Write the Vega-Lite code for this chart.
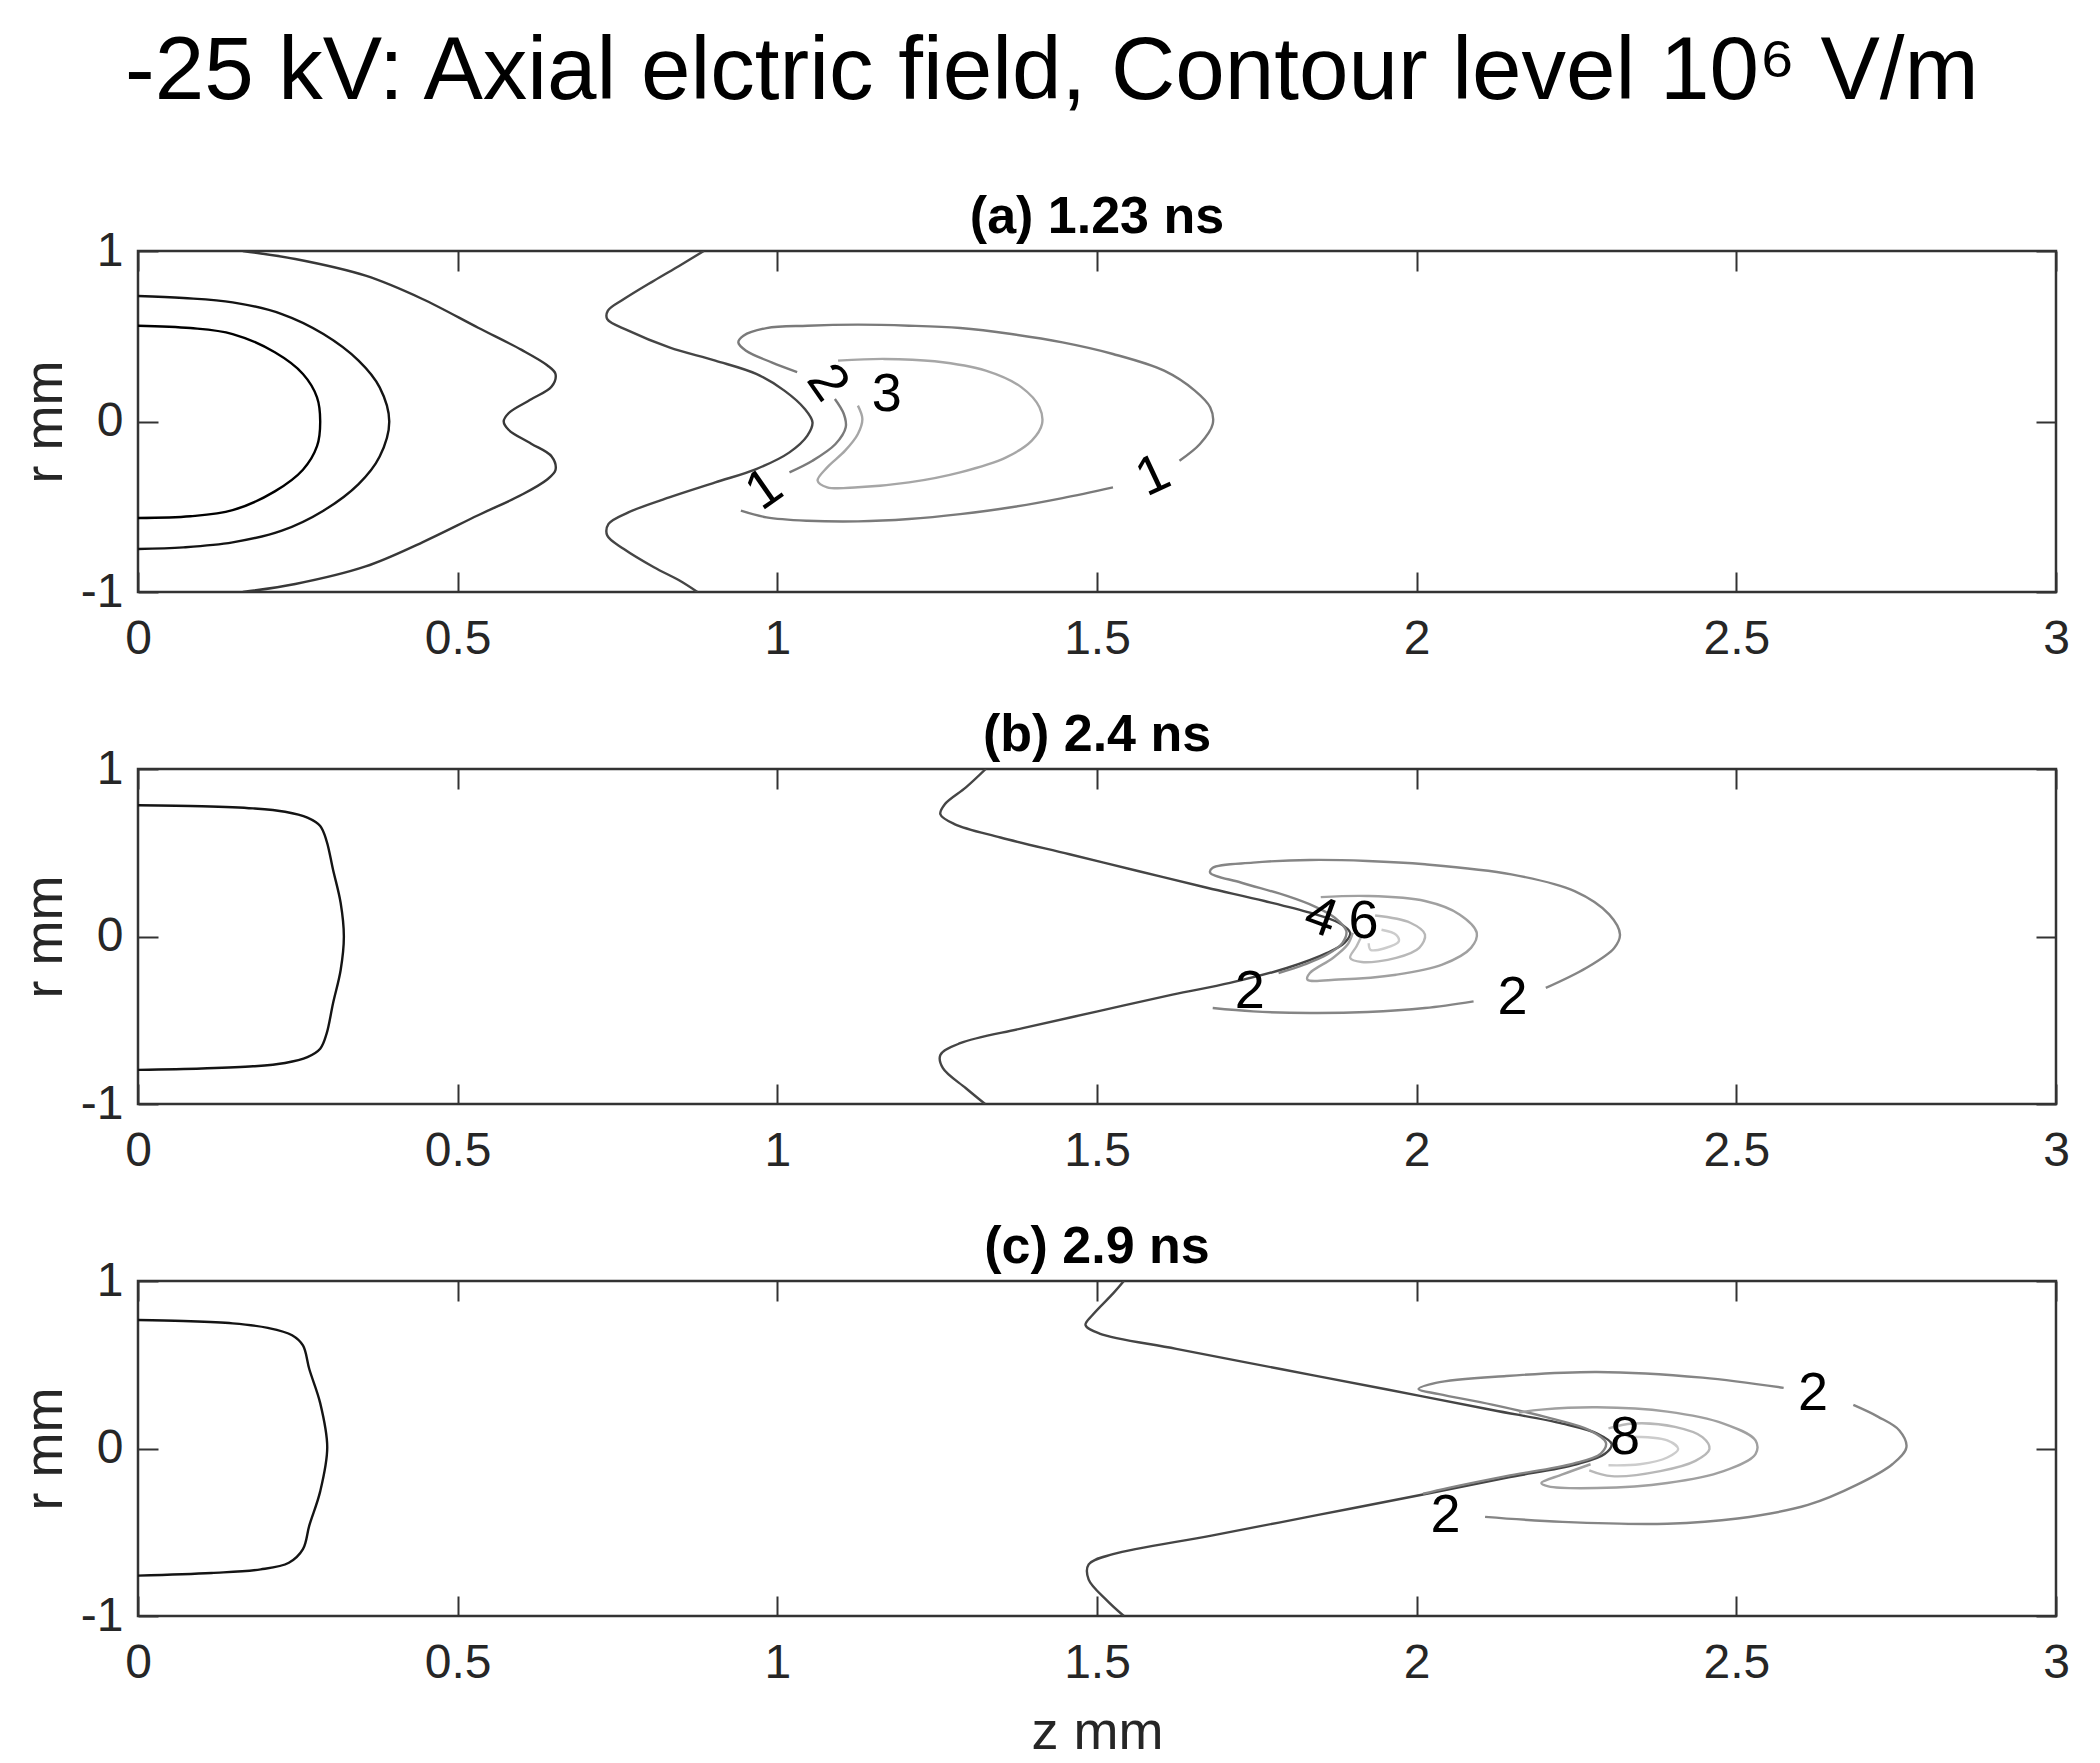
{
  "$schema": "https://vega.github.io/schema/vega-lite/v6.json",
  "background": "white",
  "padding": {"left": 17, "top": 27, "right": 20, "bottom": 10},
  "title": {"text": "-25 kV: Axial elctric field, Contour level 10⁶ V/m", "font": "Liberation Sans", "fontSize": 89, "fontWeight": "normal", "color": "#000000", "anchor": "middle", "baseline": "alphabetic", "offset": 2, "dx": 8},
  "config": {
    "view": {"stroke": "#333333", "strokeWidth": 2.5},
    "axis": {"grid": false, "domain": false, "labelFlush": false, "tickSize": -20, "tickColor": "#333333", "tickWidth": 2, "labelFont": "Liberation Sans", "labelFontSize": 48, "labelColor": "#262626", "titleFont": "Liberation Sans", "titleFontSize": 54, "titleFontWeight": "normal", "titleColor": "#262626"},
    "title": {"font": "Liberation Sans", "fontSize": 52, "fontWeight": "bold", "color": "#000000", "baseline": "alphabetic", "offset": -17}
  },
  "datasets": {
    "la": [
      {"id":"a1","lev":-3,"z":0,"r":0.562},{"id":"a1","lev":-3,"z":0.082,"r":0.548},{"id":"a1","lev":-3,"z":0.148,"r":0.513},{"id":"a1","lev":-3,"z":0.214,"r":0.406},{"id":"a1","lev":-3,"z":0.258,"r":0.279},{"id":"a1","lev":-3,"z":0.28,"r":0.142},{"id":"a1","lev":-3,"z":0.285,"r":0},{"id":"a1","lev":-3,"z":0.28,"r":-0.145},{"id":"a1","lev":-3,"z":0.258,"r":-0.283},{"id":"a1","lev":-3,"z":0.214,"r":-0.41},{"id":"a1","lev":-3,"z":0.148,"r":-0.52},{"id":"a1","lev":-3,"z":0.082,"r":-0.556},{"id":"a1","lev":-3,"z":0,"r":-0.566},
      {"id":"a2","lev":-2,"z":0,"r":0.736},{"id":"a2","lev":-2,"z":0.071,"r":0.724},{"id":"a2","lev":-2,"z":0.148,"r":0.699},{"id":"a2","lev":-2,"z":0.225,"r":0.63},{"id":"a2","lev":-2,"z":0.29,"r":0.513},{"id":"a2","lev":-2,"z":0.345,"r":0.357},{"id":"a2","lev":-2,"z":0.378,"r":0.2},{"id":"a2","lev":-2,"z":0.393,"r":0},{"id":"a2","lev":-2,"z":0.378,"r":-0.205},{"id":"a2","lev":-2,"z":0.345,"r":-0.367},{"id":"a2","lev":-2,"z":0.29,"r":-0.523},{"id":"a2","lev":-2,"z":0.225,"r":-0.64},{"id":"a2","lev":-2,"z":0.148,"r":-0.709},{"id":"a2","lev":-2,"z":0.071,"r":-0.738},{"id":"a2","lev":-2,"z":0,"r":-0.748},
      {"id":"a3","lev":-1,"z":0.164,"r":1},{"id":"a3","lev":-1,"z":0.246,"r":0.953},{"id":"a3","lev":-1,"z":0.356,"r":0.855},{"id":"a3","lev":-1,"z":0.444,"r":0.72},{"id":"a3","lev":-1,"z":0.532,"r":0.55},{"id":"a3","lev":-1,"z":0.6,"r":0.42},{"id":"a3","lev":-1,"z":0.64,"r":0.33},{"id":"a3","lev":-1,"z":0.653,"r":0.279},{"id":"a3","lev":-1,"z":0.647,"r":0.205},{"id":"a3","lev":-1,"z":0.615,"r":0.13},{"id":"a3","lev":-1,"z":0.58,"r":0.05},{"id":"a3","lev":-1,"z":0.572,"r":0},{"id":"a3","lev":-1,"z":0.58,"r":-0.05},{"id":"a3","lev":-1,"z":0.615,"r":-0.13},{"id":"a3","lev":-1,"z":0.647,"r":-0.205},{"id":"a3","lev":-1,"z":0.653,"r":-0.285},{"id":"a3","lev":-1,"z":0.64,"r":-0.34},{"id":"a3","lev":-1,"z":0.6,"r":-0.43},{"id":"a3","lev":-1,"z":0.532,"r":-0.55},{"id":"a3","lev":-1,"z":0.444,"r":-0.71},{"id":"a3","lev":-1,"z":0.356,"r":-0.85},{"id":"a3","lev":-1,"z":0.246,"r":-0.953},{"id":"a3","lev":-1,"z":0.164,"r":-1},
      {"id":"as","lev":0,"z":0.885,"r":1},{"id":"as","lev":0,"z":0.847,"r":0.914},{"id":"as","lev":0,"z":0.807,"r":0.826},{"id":"as","lev":0,"z":0.76,"r":0.718},{"id":"as","lev":0,"z":0.735,"r":0.65},{"id":"as","lev":0,"z":0.734,"r":0.6},{"id":"as","lev":0,"z":0.767,"r":0.533},{"id":"as","lev":0,"z":0.831,"r":0.435},{"id":"as","lev":0,"z":0.903,"r":0.357},{"id":"as","lev":0,"z":0.967,"r":0.279},{"id":"as","lev":0,"z":1.011,"r":0.181},{"id":"as","lev":0,"z":1.043,"r":0.073},{"id":"as","lev":0,"z":1.055,"r":-0.005},{"id":"as","lev":0,"z":1.047,"r":-0.083},{"id":"as","lev":0,"z":1.019,"r":-0.181},{"id":"as","lev":0,"z":0.967,"r":-0.279},{"id":"as","lev":0,"z":0.903,"r":-0.357},{"id":"as","lev":0,"z":0.831,"r":-0.445},{"id":"as","lev":0,"z":0.767,"r":-0.533},{"id":"as","lev":0,"z":0.736,"r":-0.601},{"id":"as","lev":0,"z":0.734,"r":-0.669},{"id":"as","lev":0,"z":0.76,"r":-0.748},{"id":"as","lev":0,"z":0.807,"r":-0.855},{"id":"as","lev":0,"z":0.847,"r":-0.933},{"id":"as","lev":0,"z":0.875,"r":-1},
      {"id":"oa1","lev":1,"z":1.09,"r":0.132},{"id":"oa1","lev":1,"z":1.104,"r":0.044},{"id":"oa1","lev":1,"z":1.107,"r":-0.034},{"id":"oa1","lev":1,"z":1.091,"r":-0.132},{"id":"oa1","lev":1,"z":1.055,"r":-0.23},{"id":"oa1","lev":1,"z":1.019,"r":-0.298},
      {"id":"oa2","lev":1,"z":0.943,"r":-0.523},{"id":"oa2","lev":1,"z":0.983,"r":-0.562},{"id":"oa2","lev":1,"z":1.047,"r":-0.582},{"id":"oa2","lev":1,"z":1.126,"r":-0.586},{"id":"oa2","lev":1,"z":1.206,"r":-0.572},{"id":"oa2","lev":1,"z":1.286,"r":-0.543},{"id":"oa2","lev":1,"z":1.366,"r":-0.503},{"id":"oa2","lev":1,"z":1.446,"r":-0.449},{"id":"oa2","lev":1,"z":1.525,"r":-0.386},
      {"id":"oa3","lev":1,"z":1.629,"r":-0.23},{"id":"oa3","lev":1,"z":1.661,"r":-0.132},{"id":"oa3","lev":1,"z":1.681,"r":-0.015},{"id":"oa3","lev":1,"z":1.677,"r":0.083},{"id":"oa3","lev":1,"z":1.653,"r":0.181},{"id":"oa3","lev":1,"z":1.605,"r":0.298},{"id":"oa3","lev":1,"z":1.525,"r":0.396},{"id":"oa3","lev":1,"z":1.446,"r":0.464},{"id":"oa3","lev":1,"z":1.366,"r":0.513},{"id":"oa3","lev":1,"z":1.286,"r":0.548},{"id":"oa3","lev":1,"z":1.206,"r":0.562},{"id":"oa3","lev":1,"z":1.126,"r":0.568},{"id":"oa3","lev":1,"z":1.047,"r":0.562},{"id":"oa3","lev":1,"z":0.983,"r":0.548},{"id":"oa3","lev":1,"z":0.947,"r":0.503},{"id":"oa3","lev":1,"z":0.939,"r":0.464},{"id":"oa3","lev":1,"z":0.951,"r":0.415},{"id":"oa3","lev":1,"z":0.991,"r":0.347},{"id":"oa3","lev":1,"z":1.031,"r":0.29},
      {"id":"ca1","lev":3,"z":1.095,"r":0.357},{"id":"ca1","lev":3,"z":1.167,"r":0.367},{"id":"ca1","lev":3,"z":1.246,"r":0.353},{"id":"ca1","lev":3,"z":1.326,"r":0.298},{"id":"ca1","lev":3,"z":1.382,"r":0.2},{"id":"ca1","lev":3,"z":1.41,"r":0.083},{"id":"ca1","lev":3,"z":1.414,"r":-0.015},{"id":"ca1","lev":3,"z":1.398,"r":-0.112},{"id":"ca1","lev":3,"z":1.358,"r":-0.21},{"id":"ca1","lev":3,"z":1.286,"r":-0.298},{"id":"ca1","lev":3,"z":1.206,"r":-0.357},{"id":"ca1","lev":3,"z":1.126,"r":-0.386},{"id":"ca1","lev":3,"z":1.078,"r":-0.386},{"id":"ca1","lev":3,"z":1.063,"r":-0.347},{"id":"ca1","lev":3,"z":1.078,"r":-0.269},{"id":"ca1","lev":3,"z":1.106,"r":-0.171},{"id":"ca1","lev":3,"z":1.126,"r":-0.073},{"id":"ca1","lev":3,"z":1.133,"r":0.015},{"id":"ca1","lev":3,"z":1.126,"r":0.093}
    ],
    "ta": [
      {"k":"a2","t":"2","z":1.078,"r":0.226},{"k":"a3","t":"3","z":1.171,"r":0.155},{"k":"a1L","t":"1","z":0.98,"r":-0.4},{"k":"a1R","t":"1","z":1.588,"r":-0.32}
    ],
    "lb": [
      {"id":"b1","lev":-2,"z":0,"r":0.784},{"id":"b1","lev":-2,"z":0.1,"r":0.778},{"id":"b1","lev":-2,"z":0.18,"r":0.765},{"id":"b1","lev":-2,"z":0.23,"r":0.745},{"id":"b1","lev":-2,"z":0.265,"r":0.71},{"id":"b1","lev":-2,"z":0.285,"r":0.66},{"id":"b1","lev":-2,"z":0.295,"r":0.57},{"id":"b1","lev":-2,"z":0.305,"r":0.4},{"id":"b1","lev":-2,"z":0.317,"r":0.2},{"id":"b1","lev":-2,"z":0.322,"r":0},{"id":"b1","lev":-2,"z":0.317,"r":-0.2},{"id":"b1","lev":-2,"z":0.305,"r":-0.4},{"id":"b1","lev":-2,"z":0.295,"r":-0.58},{"id":"b1","lev":-2,"z":0.285,"r":-0.67},{"id":"b1","lev":-2,"z":0.265,"r":-0.72},{"id":"b1","lev":-2,"z":0.23,"r":-0.755},{"id":"b1","lev":-2,"z":0.18,"r":-0.775},{"id":"b1","lev":-2,"z":0.1,"r":-0.788},{"id":"b1","lev":-2,"z":0,"r":-0.796},
      {"id":"bs","lev":0,"z":1.326,"r":1},{"id":"bs","lev":0,"z":1.295,"r":0.89},{"id":"bs","lev":0,"z":1.262,"r":0.79},{"id":"bs","lev":0,"z":1.255,"r":0.73},{"id":"bs","lev":0,"z":1.277,"r":0.671},{"id":"bs","lev":0,"z":1.349,"r":0.591},{"id":"bs","lev":0,"z":1.457,"r":0.491},{"id":"bs","lev":0,"z":1.564,"r":0.391},{"id":"bs","lev":0,"z":1.672,"r":0.291},{"id":"bs","lev":0,"z":1.762,"r":0.212},{"id":"bs","lev":0,"z":1.833,"r":0.142},{"id":"bs","lev":0,"z":1.878,"r":0.082},{"id":"bs","lev":0,"z":1.896,"r":0.022},{"id":"bs","lev":0,"z":1.887,"r":-0.038},{"id":"bs","lev":0,"z":1.86,"r":-0.098},{"id":"bs","lev":0,"z":1.797,"r":-0.188},{"id":"bs","lev":0,"z":1.708,"r":-0.277},{"id":"bs","lev":0,"z":1.618,"r":-0.347},{"id":"bs","lev":0,"z":1.501,"r":-0.447},{"id":"bs","lev":0,"z":1.384,"r":-0.547},{"id":"bs","lev":0,"z":1.286,"r":-0.637},{"id":"bs","lev":0,"z":1.255,"r":-0.707},{"id":"bs","lev":0,"z":1.259,"r":-0.786},{"id":"bs","lev":0,"z":1.295,"r":-0.906},{"id":"bs","lev":0,"z":1.325,"r":-1},
      {"id":"ob1","lev":2,"z":1.681,"r":-0.427},{"id":"ob1","lev":2,"z":1.744,"r":-0.447},{"id":"ob1","lev":2,"z":1.833,"r":-0.457},{"id":"ob1","lev":2,"z":1.923,"r":-0.451},{"id":"ob1","lev":2,"z":2.013,"r":-0.427},{"id":"ob1","lev":2,"z":2.089,"r":-0.387},
      {"id":"ob2","lev":2,"z":2.202,"r":-0.307},{"id":"ob2","lev":2,"z":2.265,"r":-0.188},{"id":"ob2","lev":2,"z":2.309,"r":-0.068},{"id":"ob2","lev":2,"z":2.318,"r":0.012},{"id":"ob2","lev":2,"z":2.301,"r":0.132},{"id":"ob2","lev":2,"z":2.247,"r":0.271},{"id":"ob2","lev":2,"z":2.148,"r":0.371},{"id":"ob2","lev":2,"z":2.013,"r":0.431},{"id":"ob2","lev":2,"z":1.923,"r":0.451},{"id":"ob2","lev":2,"z":1.833,"r":0.457},{"id":"ob2","lev":2,"z":1.744,"r":0.441},{"id":"ob2","lev":2,"z":1.681,"r":0.411},{"id":"ob2","lev":2,"z":1.677,"r":0.381},{"id":"ob2","lev":2,"z":1.726,"r":0.321},{"id":"ob2","lev":2,"z":1.797,"r":0.242},{"id":"ob2","lev":2,"z":1.84,"r":0.18},{"id":"ob2","lev":2,"z":1.872,"r":0.112},{"id":"ob2","lev":2,"z":1.89,"r":0.032},{"id":"ob2","lev":2,"z":1.884,"r":-0.038},{"id":"ob2","lev":2,"z":1.86,"r":-0.108},{"id":"ob2","lev":2,"z":1.824,"r":-0.168},{"id":"ob2","lev":2,"z":1.784,"r":-0.218},
      {"id":"b4","lev":4,"z":1.85,"r":0.235},{"id":"b4","lev":4,"z":1.923,"r":0.242},{"id":"b4","lev":4,"z":2.013,"r":0.212},{"id":"b4","lev":4,"z":2.067,"r":0.132},{"id":"b4","lev":4,"z":2.094,"r":0.022},{"id":"b4","lev":4,"z":2.085,"r":-0.068},{"id":"b4","lev":4,"z":2.04,"r":-0.168},{"id":"b4","lev":4,"z":1.968,"r":-0.228},{"id":"b4","lev":4,"z":1.878,"r":-0.257},{"id":"b4","lev":4,"z":1.829,"r":-0.257},{"id":"b4","lev":4,"z":1.833,"r":-0.218},{"id":"b4","lev":4,"z":1.869,"r":-0.128},{"id":"b4","lev":4,"z":1.892,"r":-0.048},{"id":"b4","lev":4,"z":1.9,"r":0.022},
      {"id":"b6","lev":6,"z":1.935,"r":0.125},{"id":"b6","lev":6,"z":1.99,"r":0.082},{"id":"b6","lev":6,"z":2.013,"r":0.012},{"id":"b6","lev":6,"z":2.004,"r":-0.068},{"id":"b6","lev":6,"z":1.968,"r":-0.128},{"id":"b6","lev":6,"z":1.914,"r":-0.152},{"id":"b6","lev":6,"z":1.896,"r":-0.128},{"id":"b6","lev":6,"z":1.906,"r":-0.058},{"id":"b6","lev":6,"z":1.915,"r":0.012},
      {"id":"b8","lev":8,"z":1.945,"r":0.04},{"id":"b8","lev":8,"z":1.968,"r":0.01},{"id":"b8","lev":8,"z":1.972,"r":-0.03},{"id":"b8","lev":8,"z":1.95,"r":-0.07},{"id":"b8","lev":8,"z":1.928,"r":-0.08},{"id":"b8","lev":8,"z":1.925,"r":-0.04}
    ],
    "tb": [
      {"k":"b4","t":"4","z":1.85,"r":0.111},{"k":"b6","t":"6","z":1.917,"r":0.087},{"k":"b2L","t":"2","z":1.739,"r":-0.333},{"k":"b2R","t":"2","z":2.15,"r":-0.365}
    ],
    "lc": [
      {"id":"c1","lev":-2,"z":0,"r":0.767},{"id":"c1","lev":-2,"z":0.071,"r":0.761},{"id":"c1","lev":-2,"z":0.148,"r":0.747},{"id":"c1","lev":-2,"z":0.203,"r":0.72},{"id":"c1","lev":-2,"z":0.241,"r":0.676},{"id":"c1","lev":-2,"z":0.258,"r":0.615},{"id":"c1","lev":-2,"z":0.268,"r":0.473},{"id":"c1","lev":-2,"z":0.285,"r":0.271},{"id":"c1","lev":-2,"z":0.296,"r":0.007},{"id":"c1","lev":-2,"z":0.285,"r":-0.256},{"id":"c1","lev":-2,"z":0.268,"r":-0.459},{"id":"c1","lev":-2,"z":0.258,"r":-0.601},{"id":"c1","lev":-2,"z":0.236,"r":-0.682},{"id":"c1","lev":-2,"z":0.192,"r":-0.722},{"id":"c1","lev":-2,"z":0.115,"r":-0.743},{"id":"c1","lev":-2,"z":0,"r":-0.759},
      {"id":"cs","lev":0,"z":1.542,"r":1},{"id":"cs","lev":0,"z":1.526,"r":0.929},{"id":"cs","lev":0,"z":1.493,"r":0.797},{"id":"cs","lev":0,"z":1.482,"r":0.737},{"id":"cs","lev":0,"z":1.504,"r":0.686},{"id":"cs","lev":0,"z":1.624,"r":0.595},{"id":"cs","lev":0,"z":1.789,"r":0.473},{"id":"cs","lev":0,"z":1.954,"r":0.352},{"id":"cs","lev":0,"z":2.118,"r":0.23},{"id":"cs","lev":0,"z":2.228,"r":0.149},{"id":"cs","lev":0,"z":2.283,"r":0.088},{"id":"cs","lev":0,"z":2.305,"r":0.027},{"id":"cs","lev":0,"z":2.294,"r":-0.033},{"id":"cs","lev":0,"z":2.25,"r":-0.094},{"id":"cs","lev":0,"z":2.14,"r":-0.175},{"id":"cs","lev":0,"z":2.008,"r":-0.276},{"id":"cs","lev":0,"z":1.844,"r":-0.398},{"id":"cs","lev":0,"z":1.679,"r":-0.52},{"id":"cs","lev":0,"z":1.525,"r":-0.631},{"id":"cs","lev":0,"z":1.487,"r":-0.692},{"id":"cs","lev":0,"z":1.487,"r":-0.783},{"id":"cs","lev":0,"z":1.515,"r":-0.905},{"id":"cs","lev":0,"z":1.542,"r":-1},
      {"id":"oc1","lev":2,"z":2.574,"r":0.362},{"id":"oc1","lev":2,"z":2.447,"r":0.423},{"id":"oc1","lev":2,"z":2.282,"r":0.457},{"id":"oc1","lev":2,"z":2.14,"r":0.433},{"id":"oc1","lev":2,"z":2.03,"r":0.392},{"id":"oc1","lev":2,"z":2.003,"r":0.355},{"id":"oc1","lev":2,"z":2.035,"r":0.325},{"id":"oc1","lev":2,"z":2.118,"r":0.262},{"id":"oc1","lev":2,"z":2.21,"r":0.18},{"id":"oc1","lev":2,"z":2.27,"r":0.11},{"id":"oc1","lev":2,"z":2.296,"r":0.035},{"id":"oc1","lev":2,"z":2.288,"r":-0.03},{"id":"oc1","lev":2,"z":2.245,"r":-0.09},{"id":"oc1","lev":2,"z":2.14,"r":-0.165},{"id":"oc1","lev":2,"z":2.05,"r":-0.235},{"id":"oc1","lev":2,"z":2.01,"r":-0.27},
      {"id":"oc2","lev":2,"z":2.107,"r":-0.408},{"id":"oc2","lev":2,"z":2.228,"r":-0.438},{"id":"oc2","lev":2,"z":2.392,"r":-0.449},{"id":"oc2","lev":2,"z":2.502,"r":-0.418},{"id":"oc2","lev":2,"z":2.612,"r":-0.337},{"id":"oc2","lev":2,"z":2.689,"r":-0.216},{"id":"oc2","lev":2,"z":2.744,"r":-0.094},{"id":"oc2","lev":2,"z":2.766,"r":0.007},{"id":"oc2","lev":2,"z":2.755,"r":0.108},{"id":"oc2","lev":2,"z":2.722,"r":0.189},{"id":"oc2","lev":2,"z":2.683,"r":0.26},
      {"id":"c4","lev":4,"z":2.16,"r":0.215},{"id":"c4","lev":4,"z":2.195,"r":0.232},{"id":"c4","lev":4,"z":2.282,"r":0.246},{"id":"c4","lev":4,"z":2.392,"r":0.22},{"id":"c4","lev":4,"z":2.48,"r":0.149},{"id":"c4","lev":4,"z":2.53,"r":0.048},{"id":"c4","lev":4,"z":2.53,"r":-0.033},{"id":"c4","lev":4,"z":2.48,"r":-0.135},{"id":"c4","lev":4,"z":2.392,"r":-0.206},{"id":"c4","lev":4,"z":2.282,"r":-0.236},{"id":"c4","lev":4,"z":2.206,"r":-0.226},{"id":"c4","lev":4,"z":2.195,"r":-0.206},{"id":"c4","lev":4,"z":2.228,"r":-0.155},{"id":"c4","lev":4,"z":2.272,"r":-0.094},
      {"id":"c6","lev":6,"z":2.3,"r":0.12},{"id":"c6","lev":6,"z":2.338,"r":0.149},{"id":"c6","lev":6,"z":2.404,"r":0.129},{"id":"c6","lev":6,"z":2.447,"r":0.068},{"id":"c6","lev":6,"z":2.458,"r":-0.003},{"id":"c6","lev":6,"z":2.436,"r":-0.074},{"id":"c6","lev":6,"z":2.381,"r":-0.135},{"id":"c6","lev":6,"z":2.305,"r":-0.165},{"id":"c6","lev":6,"z":2.27,"r":-0.13},
      {"id":"c8","lev":8,"z":2.33,"r":0.07},{"id":"c8","lev":8,"z":2.392,"r":0.048},{"id":"c8","lev":8,"z":2.409,"r":-0.003},{"id":"c8","lev":8,"z":2.392,"r":-0.054},{"id":"c8","lev":8,"z":2.349,"r":-0.094},{"id":"c8","lev":8,"z":2.3,"r":-0.1}
    ],
    "tc": [
      {"k":"c2R","t":"2","z":2.62,"r":0.325},{"k":"c8","t":"8","z":2.326,"r":0.063},{"k":"c2L","t":"2","z":2.045,"r":-0.405}
    ]
  },
  "bounds": "flush",
  "spacing": 177,
  "vconcat": [
    {
      "width": 1918, "height": 341,
      "title": {"text": "(a) 1.23 ns"},
      "resolve": {"axis": {"x": "independent", "y": "independent"}},
      "layer": [
        {
          "data": {"name": "la"},
          "mark": {"type": "line", "strokeWidth": 2.4, "interpolate": "catmull-rom", "clip": true},
          "encoding": {
            "x": {"field": "z", "type": "quantitative", "scale": {"domain": [0, 3], "nice": false, "zero": false}, "axis": {"orient": "bottom", "values": [0, 0.5, 1, 1.5, 2, 2.5, 3], "format": "~g", "title": null, "labelPadding": 43}},
            "y": {"field": "r", "type": "quantitative", "scale": {"domain": [-1, 1], "nice": false, "zero": false}, "axis": {"orient": "left", "values": [-1, 0, 1], "format": "~g", "title": "r mm", "labelPadding": 35, "titlePadding": 8, "labelExpr": "replace(datum.label, '−', '-')"}},
            "detail": {"field": "id"},
            "order": {"value": null},
            "color": {"field": "lev", "type": "nominal", "legend": null, "scale": {"domain": [-3, -2, -1, 0, 1, 2, 3, 4, 6, 8], "range": ["#000000", "#141414", "#383838", "#454545", "#7a7a7a", "#858585", "#a6a6a6", "#a0a0a0", "#b8b8b8", "#cccccc"]}}
          }
        },
        {
          "data": {"name": "ta"},
          "transform": [{"filter": "datum.k == 'a3'"}],
          "mark": {"type": "text", "font": "Liberation Sans", "fontSize": 54, "color": "#000000", "align": "center", "baseline": "middle"},
          "encoding": {
            "x": {"field": "z", "type": "quantitative", "axis": {"orient": "top", "values": [0, 0.5, 1, 1.5, 2, 2.5, 3], "labels": false, "title": null}},
            "y": {"field": "r", "type": "quantitative", "axis": {"orient": "right", "values": [-1, 0, 1], "labels": false, "title": null}},
            "text": {"field": "t"}
          }
        },
        {
          "data": {"name": "ta"},
          "transform": [{"filter": "datum.k == 'a2'"}],
          "mark": {"type": "text", "font": "Liberation Sans", "fontSize": 54, "color": "#000000", "align": "center", "baseline": "middle", "angle": 55},
          "encoding": {
            "x": {"field": "z", "type": "quantitative", "axis": null},
            "y": {"field": "r", "type": "quantitative", "axis": null},
            "text": {"field": "t"}
          }
        },
        {
          "data": {"name": "ta"},
          "transform": [{"filter": "datum.k == 'a1L'"}],
          "mark": {"type": "text", "font": "Liberation Sans", "fontSize": 54, "color": "#000000", "align": "center", "baseline": "middle", "angle": -35},
          "encoding": {
            "x": {"field": "z", "type": "quantitative", "axis": null},
            "y": {"field": "r", "type": "quantitative", "axis": null},
            "text": {"field": "t"}
          }
        },
        {
          "data": {"name": "ta"},
          "transform": [{"filter": "datum.k == 'a1R'"}],
          "mark": {"type": "text", "font": "Liberation Sans", "fontSize": 54, "color": "#000000", "align": "center", "baseline": "middle", "angle": -25},
          "encoding": {
            "x": {"field": "z", "type": "quantitative", "axis": null},
            "y": {"field": "r", "type": "quantitative", "axis": null},
            "text": {"field": "t"}
          }
        }
      ]
    },
    {
      "width": 1918, "height": 335,
      "title": {"text": "(b) 2.4 ns"},
      "resolve": {"axis": {"x": "independent", "y": "independent"}},
      "layer": [
        {
          "data": {"name": "lb"},
          "mark": {"type": "line", "strokeWidth": 2.4, "interpolate": "catmull-rom", "clip": true},
          "encoding": {
            "x": {"field": "z", "type": "quantitative", "scale": {"domain": [0, 3], "nice": false, "zero": false}, "axis": {"orient": "bottom", "values": [0, 0.5, 1, 1.5, 2, 2.5, 3], "format": "~g", "title": null, "labelPadding": 43}},
            "y": {"field": "r", "type": "quantitative", "scale": {"domain": [-1, 1], "nice": false, "zero": false}, "axis": {"orient": "left", "values": [-1, 0, 1], "format": "~g", "title": "r mm", "labelPadding": 35, "titlePadding": 8, "labelExpr": "replace(datum.label, '−', '-')"}},
            "detail": {"field": "id"},
            "order": {"value": null},
            "color": {"field": "lev", "type": "nominal", "legend": null, "scale": {"domain": [-3, -2, -1, 0, 1, 2, 3, 4, 6, 8], "range": ["#000000", "#141414", "#383838", "#454545", "#7a7a7a", "#858585", "#a6a6a6", "#a0a0a0", "#b8b8b8", "#cccccc"]}}
          }
        },
        {
          "data": {"name": "tb"},
          "transform": [{"filter": "datum.k != 'b4'"}],
          "mark": {"type": "text", "font": "Liberation Sans", "fontSize": 54, "color": "#000000", "align": "center", "baseline": "middle"},
          "encoding": {
            "x": {"field": "z", "type": "quantitative", "axis": {"orient": "top", "values": [0, 0.5, 1, 1.5, 2, 2.5, 3], "labels": false, "title": null}},
            "y": {"field": "r", "type": "quantitative", "axis": {"orient": "right", "values": [-1, 0, 1], "labels": false, "title": null}},
            "text": {"field": "t"}
          }
        },
        {
          "data": {"name": "tb"},
          "transform": [{"filter": "datum.k == 'b4'"}],
          "mark": {"type": "text", "font": "Liberation Sans", "fontSize": 54, "color": "#000000", "align": "center", "baseline": "middle", "angle": 20},
          "encoding": {
            "x": {"field": "z", "type": "quantitative", "axis": null},
            "y": {"field": "r", "type": "quantitative", "axis": null},
            "text": {"field": "t"}
          }
        }
      ]
    },
    {
      "width": 1918, "height": 335,
      "title": {"text": "(c) 2.9 ns"},
      "resolve": {"axis": {"x": "independent", "y": "independent"}},
      "layer": [
        {
          "data": {"name": "lc"},
          "mark": {"type": "line", "strokeWidth": 2.4, "interpolate": "catmull-rom", "clip": true},
          "encoding": {
            "x": {"field": "z", "type": "quantitative", "scale": {"domain": [0, 3], "nice": false, "zero": false}, "axis": {"orient": "bottom", "values": [0, 0.5, 1, 1.5, 2, 2.5, 3], "format": "~g", "title": "z mm", "labelPadding": 43, "titlePadding": 18}},
            "y": {"field": "r", "type": "quantitative", "scale": {"domain": [-1, 1], "nice": false, "zero": false}, "axis": {"orient": "left", "values": [-1, 0, 1], "format": "~g", "title": "r mm", "labelPadding": 35, "titlePadding": 8, "labelExpr": "replace(datum.label, '−', '-')"}},
            "detail": {"field": "id"},
            "order": {"value": null},
            "color": {"field": "lev", "type": "nominal", "legend": null, "scale": {"domain": [-3, -2, -1, 0, 1, 2, 3, 4, 6, 8], "range": ["#000000", "#141414", "#383838", "#454545", "#7a7a7a", "#858585", "#a6a6a6", "#a0a0a0", "#b8b8b8", "#cccccc"]}}
          }
        },
        {
          "data": {"name": "tc"},
          "mark": {"type": "text", "font": "Liberation Sans", "fontSize": 54, "color": "#000000", "align": "center", "baseline": "middle"},
          "encoding": {
            "x": {"field": "z", "type": "quantitative", "axis": {"orient": "top", "values": [0, 0.5, 1, 1.5, 2, 2.5, 3], "labels": false, "title": null}},
            "y": {"field": "r", "type": "quantitative", "axis": {"orient": "right", "values": [-1, 0, 1], "labels": false, "title": null}},
            "text": {"field": "t"}
          }
        }
      ]
    }
  ]
}
